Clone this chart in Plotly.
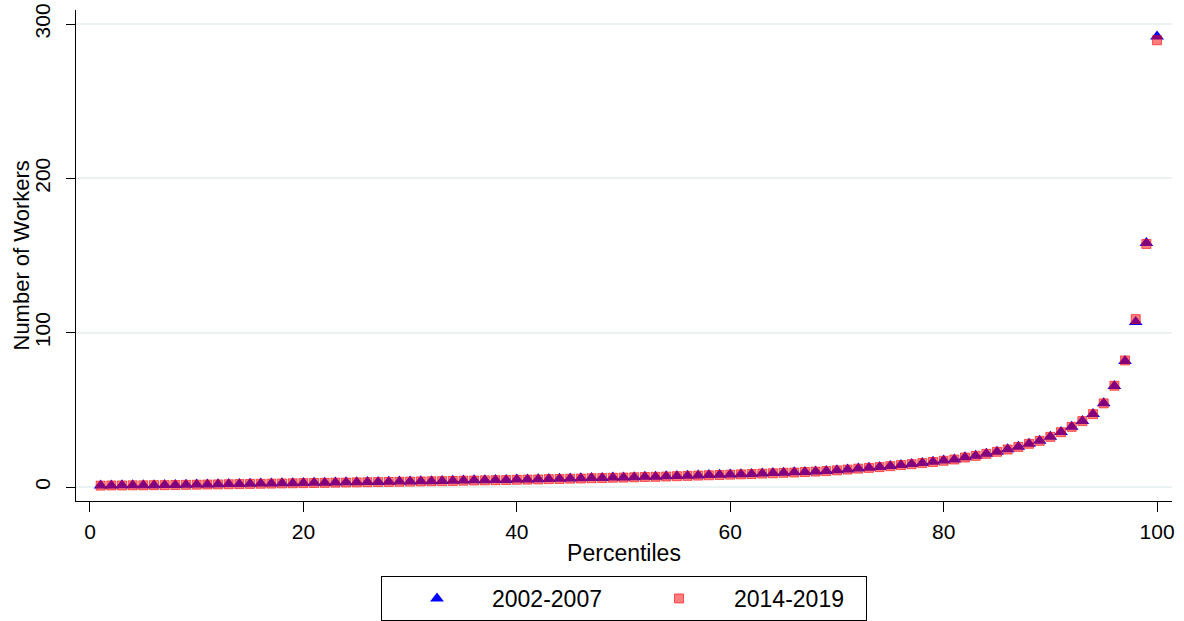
import plotly.graph_objects as go

# Percentile ranks of the firm-size distribution
percentiles = list(range(1, 101))

# Average number of workers at each percentile, 2002-2007
workers_2002_2007 = [
    1.0, 1.0, 1.1, 1.1, 1.2, 1.2, 1.3, 1.3, 1.5, 1.6,
    1.7, 1.8, 1.9, 2.0, 2.1, 2.2, 2.3, 2.4, 2.5, 2.6,
    2.7, 2.8, 2.9, 3.0, 3.1, 3.2, 3.3, 3.4, 3.5, 3.6,
    3.7, 3.8, 3.9, 4.0, 4.2, 4.3, 4.4, 4.5, 4.6, 4.8,
    4.9, 5.0, 5.2, 5.3, 5.5, 5.6, 5.8, 5.9, 6.1, 6.2,
    6.4, 6.6, 6.7, 6.9, 7.1, 7.3, 7.5, 7.7, 7.9, 8.1,
    8.3, 8.5, 8.8, 9.0, 9.3, 9.5, 9.8, 10.1, 10.4, 10.9,
    11.4, 12.0, 12.5, 13.0, 13.6, 14.3, 14.9, 15.6, 16.3, 17.1,
    17.9, 19.2, 20.3, 21.6, 22.9, 24.4, 26.1, 28.1, 30.0, 32.6,
    35.6, 39.1, 42.8, 47.3, 54.2, 65.5, 81.7, 107.0, 158.1, 292.0,
]

# Average number of workers at each percentile, 2014-2019
workers_2014_2019 = [
    0.9, 1.0, 1.0, 1.1, 1.1, 1.2, 1.2, 1.3, 1.4, 1.5,
    1.6, 1.7, 1.8, 1.9, 2.0, 2.1, 2.2, 2.3, 2.4, 2.5,
    2.6, 2.7, 2.8, 2.9, 3.0, 3.1, 3.2, 3.3, 3.4, 3.5,
    3.6, 3.7, 3.8, 3.9, 4.1, 4.2, 4.3, 4.4, 4.5, 4.7,
    4.8, 4.9, 5.1, 5.2, 5.4, 5.5, 5.7, 5.8, 6.0, 6.1,
    6.3, 6.5, 6.6, 6.8, 7.0, 7.2, 7.4, 7.6, 7.8, 8.0,
    8.2, 8.4, 8.7, 8.9, 9.2, 9.4, 9.7, 10.0, 10.3, 10.8,
    11.3, 11.9, 12.4, 12.9, 13.5, 14.2, 14.8, 15.5, 16.2, 17.0,
    17.8, 19.1, 20.2, 21.5, 22.8, 24.3, 26.0, 28.0, 29.9, 32.5,
    35.5, 39.0, 42.7, 47.2, 54.2, 65.6, 82.0, 108.8, 157.5, 289.5,
]

y_ticks = [0, 100, 200, 300]
x_ticks = [0, 20, 40, 60, 80, 100]

FONT = "Liberation Sans, Arial, sans-serif"
W, H = 1184, 621

fig = go.Figure()
fig.add_trace(go.Scatter(
    x=percentiles, y=workers_2002_2007, mode="markers", name="2002-2007",
    marker=dict(symbol="triangle-up", size=12, color="#0000ff", line=dict(width=0)),
))
fig.add_trace(go.Scatter(
    x=percentiles, y=workers_2014_2019, mode="markers", name="2014-2019",
    marker=dict(symbol="square", size=9, color="rgba(255,0,0,0.5)",
                line=dict(width=1, color="rgba(255,0,0,0.6)")),
))

fig.update_layout(
    width=W, height=H,
    margin=dict(l=76, r=12, t=10, b=120),
    paper_bgcolor="white", plot_bgcolor="white",
    font=dict(family=FONT, color="black", size=20),
    showlegend=True,
    legend=dict(
        orientation="h", xref="container", x=381 / W, xanchor="left",
        yref="container", y=0.0, yanchor="bottom",
        bordercolor="black", borderwidth=1, bgcolor="white",
        font=dict(size=23, family=FONT), itemwidth=100, entrywidth=127,
    ),
)

# vertical axis title placed beside the rotated tick labels
fig.add_annotation(
    text="Number of Workers", textangle=-90, showarrow=False,
    xref="paper", x=(21 - 76) / (W - 76 - 12), xanchor="center",
    yref="paper", y=0.5, yanchor="middle",
    font=dict(size=22, family=FONT, color="black"),
)

fig.update_xaxes(
    range=[-1.31, 101.4], tickvals=x_ticks, ticks="outside", ticklen=10,
    tickwidth=1.3, tickcolor="black", showline=True, linecolor="black",
    linewidth=1.3, showgrid=False, zeroline=False, automargin=False,
    tickfont=dict(size=21), ticklabelstandoff=2,
    title=dict(text="Percentiles", font=dict(size=23), standoff=2),
)
fig.update_yaxes(
    range=[-9.07, 309.1], tickvals=y_ticks, ticks="outside", ticklen=9,
    tickwidth=1.3, tickcolor="black", showline=True, linecolor="black",
    linewidth=1.3, showgrid=True, gridcolor="#eaf2f3", gridwidth=1.5,
    zeroline=False, tickangle=-90, tickfont=dict(size=21), automargin=False,
    ticklabelstandoff=7,
)

fig.write_html("out.html")
